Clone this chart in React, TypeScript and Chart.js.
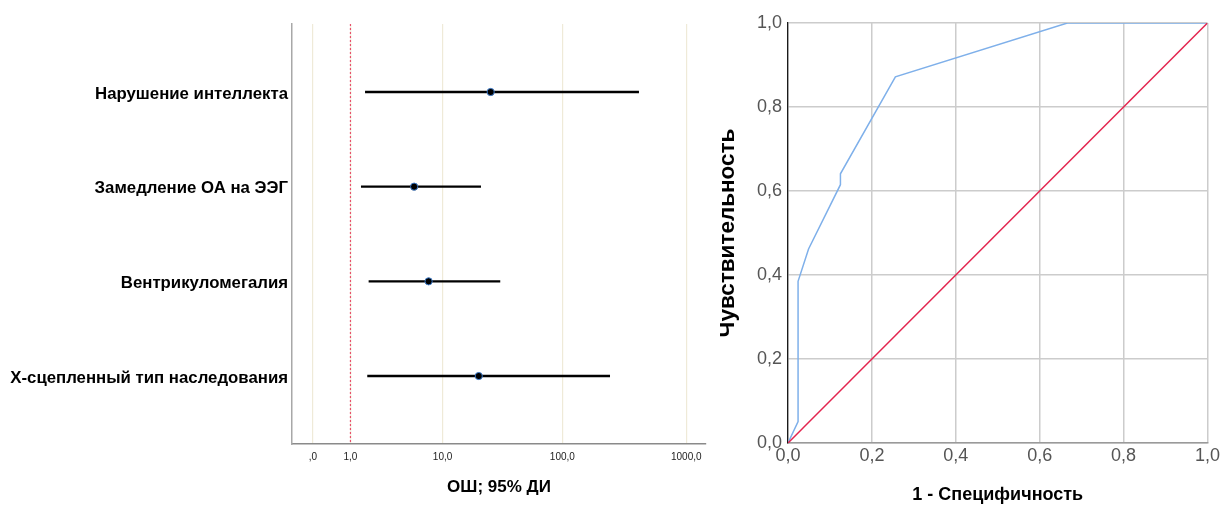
import { useEffect, useRef } from 'react';
import { Chart, registerables } from 'chart.js';

Chart.register(...registerables);

const FONT = '"Liberation Sans", Arial, Helvetica, sans-serif';

// ---- Forest plot data (odds ratios, 95% CI) ----
const factors = [
  'Нарушение интеллекта',
  'Замедление ОА на ЭЭГ',
  'Вентрикуломегалия',
  'Х-сцепленный тип наследования',
];
const oddsRatios = [25.8, 5.5, 7.5, 20.5];
const ciLower = [1.62, 1.43, 1.8, 1.73];
const ciUpper = [416, 21.4, 31.0, 243];
const orTickValues = [0, 1, 10, 100, 1000];
const orTickLabels = [',0', '1,0', '10,0', '100,0', '1000,0'];
const referenceOR = 1;
const forestXTitle = 'ОШ; 95% ДИ';

// ---- ROC data ----
const rocFpr = [0, 0.024, 0.024, 0.049, 0.125, 0.125, 0.256, 0.666, 1];
const rocTpr = [0, 0.051, 0.385, 0.462, 0.615, 0.641, 0.872, 1, 1];
const diagonalVals = [0, 1];
const rocXTitle = '1 - Специфичность';
const rocYTitle = 'Чувствительность';

// safe-log transform used by the forest plot axis
const tf = (v: number) => Math.log10(1 + v);

const fmtComma = (v: number) => v.toFixed(1).replace('.', ',');

export default function App() {
  const leftRef = useRef<HTMLCanvasElement | null>(null);
  const rightRef = useRef<HTMLCanvasElement | null>(null);

  useEffect(() => {
    Chart.defaults.font.family = FONT;
    const rowMin = -0.718;
    const rowMax = factors.length - 1 + 0.718;

    const ciSets: any[] = factors.map((_, i) => ({
      type: 'line',
      data: [
        { x: tf(ciLower[i]), y: i },
        { x: tf(ciUpper[i]), y: i },
      ],
      borderColor: '#000000',
      borderWidth: 2.4,
      pointRadius: 0,
      order: 1,
    }));

    const left = new Chart(leftRef.current as HTMLCanvasElement, {
      type: 'line',
      data: {
        datasets: [
          {
            type: 'scatter',
            data: oddsRatios.map((v, i) => ({ x: tf(v), y: i })),
            backgroundColor: '#000000',
            borderColor: '#3a78c8',
            borderWidth: 1,
            pointRadius: 3.6,
            order: 0,
          } as any,
          ...ciSets,
          {
            type: 'line',
            data: [
              { x: tf(referenceOR), y: rowMin },
              { x: tf(referenceOR), y: rowMax },
            ],
            borderColor: '#e8506c',
            borderWidth: 1.2,
            borderDash: [2, 2],
            pointRadius: 0,
            order: 2,
          } as any,
        ],
      },
      options: {
        animation: false,
        responsive: false,
        events: [],
        layout: { padding: { left: 0, right: 14, top: 24, bottom: 0 } },
        plugins: { legend: { display: false }, tooltip: { enabled: false } },
        scales: {
          x: {
            type: 'linear',
            min: tf(0) - 0.1688,
            max: 3.159,
            afterBuildTicks: (s: any) => {
              s.ticks = orTickValues.map((v) => ({ value: tf(v) }));
            },
            afterFit: (s: any) => {
              s.height = 61;
            },
            ticks: {
              callback: (_v: any, i: number) => orTickLabels[i],
              font: { size: 10, family: FONT },
              color: '#222222',
              padding: 7,
              maxRotation: 0,
              autoSkip: false,
            },
            grid: { color: '#efead8', lineWidth: 1.2, drawTicks: false },
            border: { color: '#8a8a8a', width: 1.5 },
            title: {
              display: true,
              text: forestXTitle,
              color: '#000000',
              font: { size: 17, weight: 'bold', family: FONT, lineHeight: 1 },
              padding: { top: 0, bottom: 9 },
            },
          },
          y: {
            type: 'linear',
            reverse: true,
            min: rowMin,
            max: rowMax,
            afterBuildTicks: (s: any) => {
              s.ticks = factors.map((_, i) => ({ value: i }));
            },
            afterFit: (s: any) => {
              s.width = 292;
            },
            ticks: {
              callback: (_v: any, i: number) => factors[i],
              font: { size: 16.8, weight: 'bold', family: FONT },
              color: '#000000',
              padding: 4,
              labelOffset: 2,
              autoSkip: false,
            },
            grid: { display: false, drawTicks: false },
            border: { color: '#a8a8a8', width: 1.5 },
          },
        },
      } as any,
    });

    const right = new Chart(rightRef.current as HTMLCanvasElement, {
      type: 'line',
      data: {
        datasets: [
          {
            data: rocFpr.map((x, i) => ({ x, y: rocTpr[i] })),
            borderColor: '#7fb0ea',
            borderWidth: 1.5,
            pointRadius: 0,
            tension: 0,
            order: 1,
          },
          {
            data: diagonalVals.map((v) => ({ x: v, y: v })),
            borderColor: '#e3254f',
            borderWidth: 1.5,
            pointRadius: 0,
            order: 0,
          },
        ],
      },
      options: {
        animation: false,
        responsive: false,
        events: [],
        layout: { padding: { left: 0, right: 14, top: 23, bottom: 0 } },
        plugins: { legend: { display: false }, tooltip: { enabled: false } },
        scales: {
          x: {
            type: 'linear',
            min: 0,
            max: 1,
            afterFit: (s: any) => {
              s.height = 62;
            },
            ticks: {
              stepSize: 0.2,
              callback: (v: any) => fmtComma(Number(v)),
              font: { size: 18, family: FONT },
              color: '#555555',
              padding: 2,
              maxRotation: 0,
            },
            grid: { color: '#cccccc', lineWidth: 1.5, drawTicks: false },
            border: { color: '#9a9a9a', width: 1.5 },
            title: {
              display: true,
              text: rocXTitle,
              color: '#000000',
              font: { size: 18, weight: 'bold', family: FONT, lineHeight: 1 },
              padding: { top: 0, bottom: 1 },
            },
          },
          y: {
            type: 'linear',
            min: 0,
            max: 1,
            afterFit: (s: any) => {
              s.width = 68;
            },
            ticks: {
              stepSize: 0.2,
              callback: (v: any) => fmtComma(Number(v)),
              font: { size: 18, family: FONT },
              color: '#555555',
              padding: 6,
            },
            grid: { color: '#cccccc', lineWidth: 1.5, drawTicks: false },
            border: { color: '#1a1a1a', width: 1.3 },
            title: {
              display: true,
              text: rocYTitle,
              color: '#000000',
              font: { size: 22.5, weight: 'bold', family: FONT, lineHeight: 0.7 },
              padding: { top: 0, bottom: 0 },
            },
          },
        },
      } as any,
    });

    return () => {
      left.destroy();
      right.destroy();
    };
  }, []);

  return (
    <div style={{ position: 'fixed', left: 0, top: 0, width: 1222, height: 505, background: '#ffffff' }}>
      <canvas ref={leftRef} width={720} height={505} style={{ position: 'absolute', left: 0, top: 0 }} />
      <canvas ref={rightRef} width={502} height={505} style={{ position: 'absolute', left: 720, top: 0 }} />
    </div>
  );
}
